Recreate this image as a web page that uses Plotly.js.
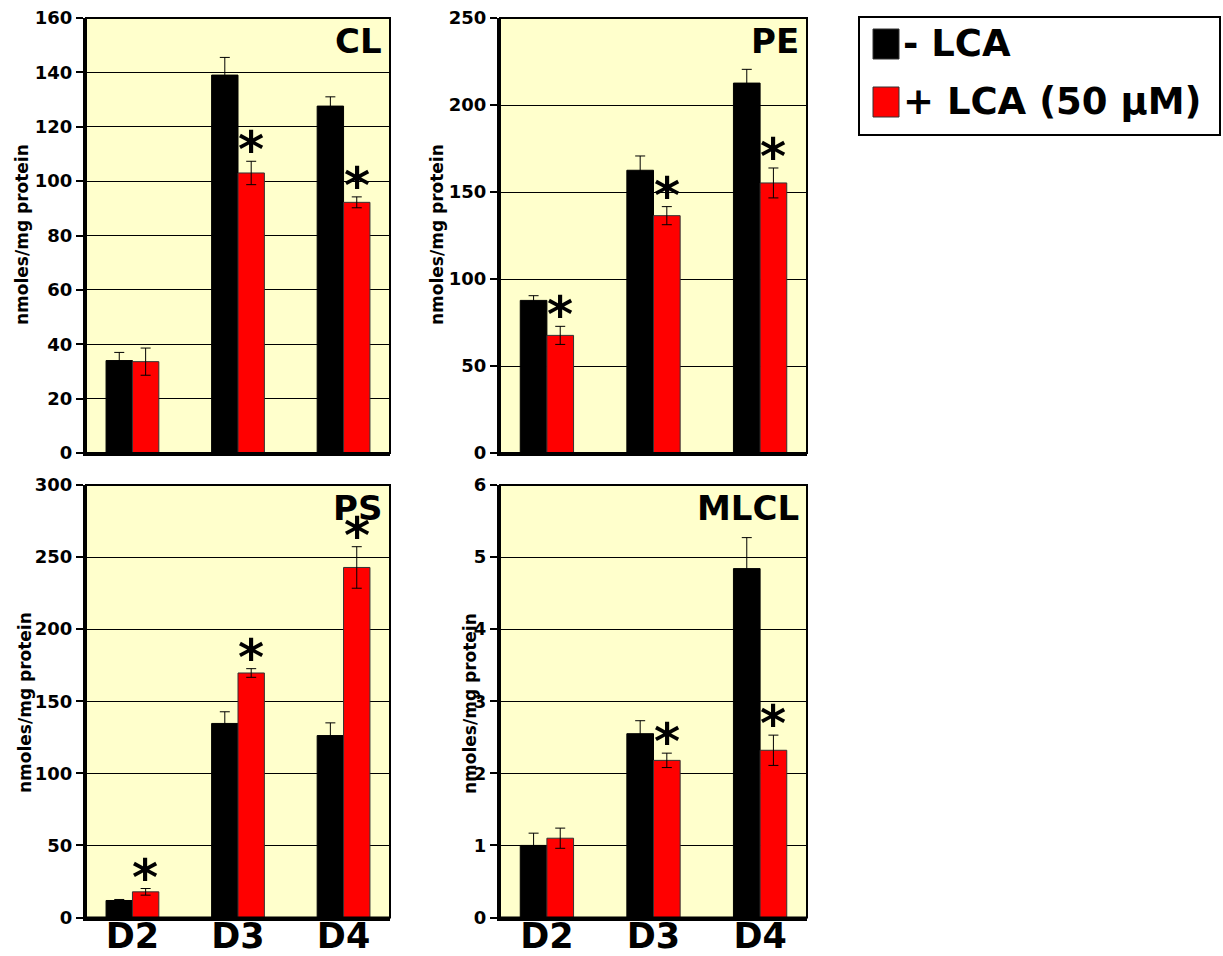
<!DOCTYPE html>
<html>
<head>
<meta charset="utf-8">
<script src="https://cdn.plot.ly/plotly-3.0.1.min.js"></script>
<style>html,body{margin:0;padding:0;background:#fff;}#chart{width:1223px;height:956px;}</style>
</head>
<body>
<div id="chart"></div>
<script>
// ---- data ----
const days = ["D2", "D3", "D4"];
const seriesNames = ["- LCA", "+ LCA (50 μM)"];
const seriesColors = ["#000000", "#FF0000"];

const panelNames = ["CL", "PE", "PS", "MLCL"];

const clMinus = [34, 139, 127.6];
const clMinusErr = [3, 6.5, 3.4];
const clPlus = [33.6, 103, 92.2];
const clPlusErr = [5, 4.3, 2];
const clSig = [false, true, true];

const peMinus = [87.7, 162.5, 212.6];
const peMinusErr = [2.7, 8.2, 7.9];
const pePlus = [67.6, 136.4, 155.2];
const pePlusErr = [5.2, 5.2, 8.6];
const peSig = [true, true, true];

const psMinus = [11.8, 134.6, 126.2];
const psMinusErr = [0.7, 8.1, 8.8];
const psPlus = [17.8, 169.6, 242.8];
const psPlusErr = [2.3, 3, 14.4];
const psSig = [true, true, true];

const mlclMinus = [1.0, 2.55, 4.84];
const mlclMinusErr = [0.17, 0.18, 0.43];
const mlclPlus = [1.1, 2.18, 2.32];
const mlclPlusErr = [0.14, 0.1, 0.21];
const mlclSig = [false, true, true];

const yMax = [160, 250, 300, 6];
const yStep = [20, 50, 50, 1];
const yTitle = "nmoles/mg protein";

// ---- layout helpers ----
const W = 1223, H = 956;
const px = v => v / W;
const py = v => 1 - v / H;
const colX = [[86, 390], [500, 807]];
const rowY = [[18, 453], [485, 917.5]];

const panels = [
  {minus: clMinus, minusErr: clMinusErr, plus: clPlus, plusErr: clPlusErr, sig: clSig},
  {minus: peMinus, minusErr: peMinusErr, plus: pePlus, plusErr: pePlusErr, sig: peSig},
  {minus: psMinus, minusErr: psMinusErr, plus: psPlus, plusErr: psPlusErr, sig: psSig},
  {minus: mlclMinus, minusErr: mlclMinusErr, plus: mlclPlus, plusErr: mlclPlusErr, sig: mlclSig}
];
const titlePos = [[22, 235], [437, 235], [25, 703], [470, 704]];

const FONT = "DejaVu Sans, Verdana, sans-serif";
const traces = [];
const annotations = [];
const shapes = [];
const layout = {
  width: W, height: H,
  margin: {l: 0, r: 0, t: 0, b: 0},
  paper_bgcolor: "#ffffff",
  plot_bgcolor: "#FFFFCC",
  showlegend: false,
  barmode: "group",
  bargap: 0.5,
  bargroupgap: 0,
  font: {family: FONT, color: "#000"},
};

panels.forEach((p, i) => {
  const r = Math.floor(i / 2), c = i % 2;
  const xa = "x" + (i === 0 ? "" : i + 1);
  const ya = "y" + (i === 0 ? "" : i + 1);
  const xKey = "xaxis" + (i === 0 ? "" : i + 1);
  const yKey = "yaxis" + (i === 0 ? "" : i + 1);
  const vals = [p.minus, p.plus];
  const errs = [p.minusErr, p.plusErr];
  vals.forEach((v, s) => {
    traces.push({
      type: "bar", x: days, y: v, name: seriesNames[s],
      xaxis: xa, yaxis: ya,
      marker: {color: seriesColors[s], line: {color: s === 0 ? "#000" : "#333", width: 1}},
      error_y: {type: "data", array: errs[s], visible: true, color: "#000", thickness: 1, width: 5},
      offsetgroup: String(s),
      hoverinfo: "skip"
    });
  });
  layout[xKey] = {
    domain: [px(colX[c][0]), px(colX[c][1])],
    anchor: ya,
    type: "category",
    range: [-0.44, 2.44],
    showline: true, linewidth: 3, linecolor: "#000",
    showgrid: false, zeroline: false,
    ticks: "",
    showticklabels: r === 1,
    ticklabelstandoff: -15,
    tickfont: {family: FONT, size: 35, weight: "bold", color: "#000"},
    fixedrange: true
  };
  layout[yKey] = {
    domain: [py(rowY[r][1]), py(rowY[r][0])],
    anchor: xa,
    range: [0, yMax[i]],
    dtick: yStep[i], tick0: 0,
    showline: true, linewidth: 3, linecolor: "#000",
    showgrid: true, gridcolor: "#000", gridwidth: 1,
    zeroline: false,
    ticks: "outside", ticklen: 7, tickwidth: 2, tickcolor: "#000",
    tickfont: {family: FONT, size: 18, weight: "bold", color: "#000"},
    fixedrange: true
  };
  // frame (top & right)
  shapes.push({type: "rect", xref: xa + " domain", yref: ya + " domain", x0: 0, x1: 1, y0: 0, y1: 1,
    line: {color: "#000", width: 2}, fillcolor: "rgba(0,0,0,0)", layer: "above"});
  // panel label
  annotations.push({xref: xa + " domain", yref: ya + " domain", x: 1, y: 1, xanchor: "right", yanchor: "top",
    xshift: -6, yshift: -1, showarrow: false, text: "<b>" + panelNames[i] + "</b>",
    font: {family: FONT, size: 34, color: "#000"}});
  // y title
  annotations.push({xref: "paper", yref: "paper", x: px(titlePos[i][0]), y: py(titlePos[i][1]),
    xanchor: "center", yanchor: "middle", textangle: -90, showarrow: false,
    text: "<b>" + yTitle + "</b>", font: {family: FONT, size: 17, color: "#000"}});
  // significance asterisks
  p.sig.forEach((sg, k) => {
    if (!sg) return;
    annotations.push({xref: xa, yref: ya, x: k, xshift: 13, y: p.plus[k] + p.plusErr[k],
      yanchor: "bottom", yshift: -20, showarrow: false, text: "<b>*</b>",
      font: {family: FONT, size: 50, color: "#000"}});
  });
});

// legend drawn from series arrays
shapes.push({type: "rect", xref: "paper", yref: "paper", x0: px(859), x1: px(1220), y0: py(135), y1: py(17),
  line: {color: "#000", width: 2}, fillcolor: "#fff"});
seriesNames.forEach((nm, s) => {
  const top = 29 + s * 58;
  shapes.push({type: "rect", xref: "paper", yref: "paper", x0: px(873), x1: px(899), y0: py(top + 30), y1: py(top),
    line: {color: "#333", width: 1}, fillcolor: seriesColors[s]});
  annotations.push({xref: "paper", yref: "paper", x: px(901), y: py(top + 15), xanchor: "left", yanchor: "middle",
    showarrow: false, text: "<b>" + nm + "</b>", font: {family: FONT, size: 37, color: "#000"}});
});

layout.annotations = annotations;
layout.shapes = shapes;

Plotly.newPlot("chart", traces, layout, {staticPlot: true, displayModeBar: false});
</script>
</body>
</html>
